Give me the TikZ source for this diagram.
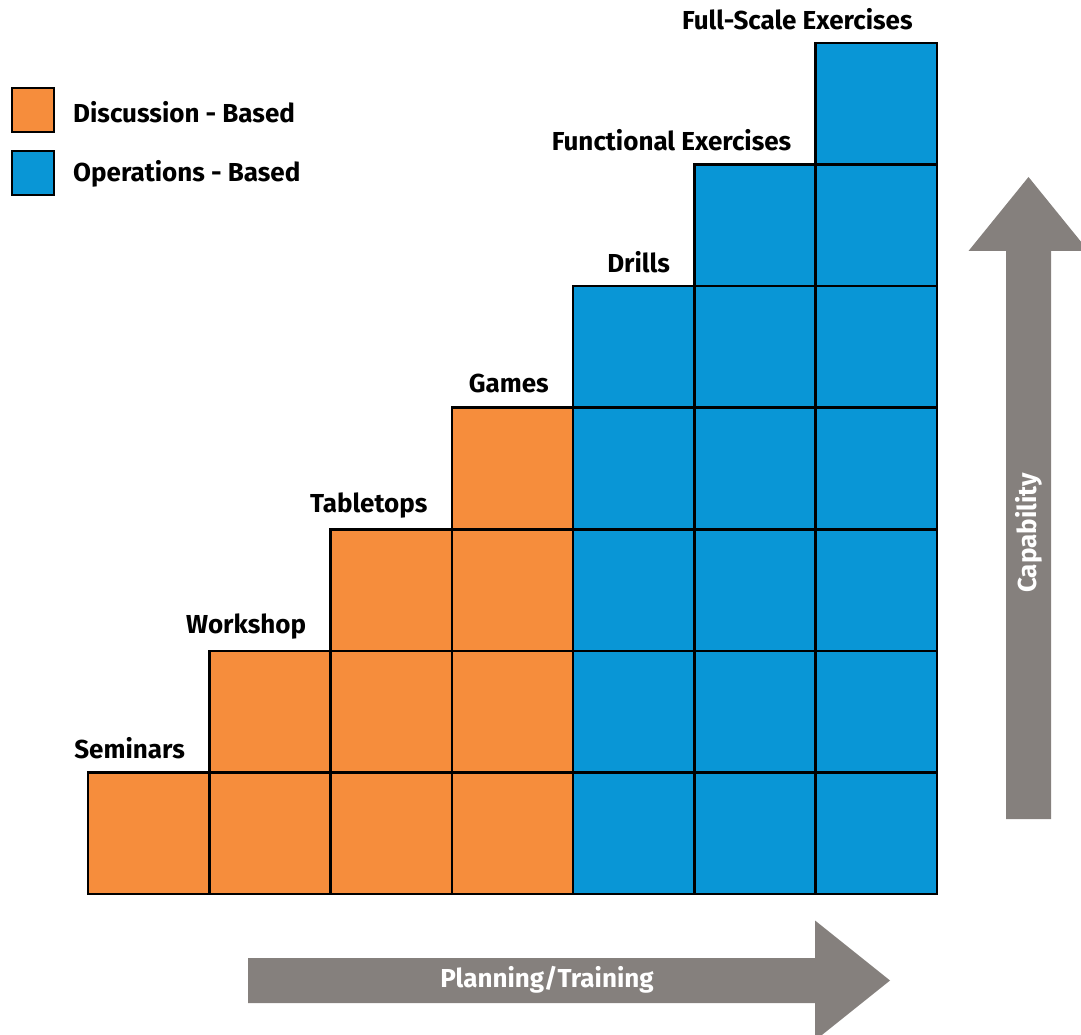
\documentclass[tikz,border=0pt]{standalone}
\usepackage{fontspec}
\setmainfont{Fira Sans}
\usetikzlibrary{positioning}
\usepackage{xcolor}

\definecolor{discorange}{RGB}{246,141,60}
\definecolor{opsblue}{RGB}{9,150,214}
\definecolor{arrowgrey}{RGB}{133,128,125}

\begin{document}
\begin{tikzpicture}[x=1pt,y=1pt,
      cell/.style={draw=black,line width=2.6pt},
      level label/.style={anchor=east,inner sep=0pt,
          font=\bfseries\fontsize{26}{30}\selectfont},
      key box/.style={rectangle,draw=black,line width=2.6pt,
          minimum width=42pt,minimum height=44pt,inner sep=0pt},
      key text/.style={anchor=west,inner sep=0pt,
          font=\bfseries\fontsize{26}{30}\selectfont},
      big arrow/.style={fill=arrowgrey,draw=none},
      arrow text/.style={text=white,inner sep=0pt,
          font=\bfseries\fontsize{26}{30}\selectfont}]

    \useasboundingbox (0,0) rectangle (1081,1034);

    % staircase of cells, one column per exercise type
    \foreach \c/\name/\lab in {0/sem/Seminars,1/work/Workshop,2/table/Tabletops,
        3/games/Games,4/drills/Drills,5/func/Functional Exercises,
        6/full/Full-Scale Exercises}{
      \ifnum\c<4 \def\cellcolor{discorange}\else\def\cellcolor{opsblue}\fi
      \foreach \r in {0,...,\c}
        \draw[cell,fill=\cellcolor] (88+\c*121.29,140+\r*121.57) rectangle ++(121.29,121.57);
      \node[level label] (\name) at (88+\c*121.29+97,140+\c*121.57+121.57+24) {\lab};
    }

    % legend
    \node[key box,fill=discorange] (disc) at (33,924) {};
    \node[key box,fill=opsblue] (ops) at (33,861) {};
    \node[key text] (disctext) at (73,922) {Discussion - Based};
    \node[key text] (opstext) at (73,860) {Operations - Based};

    % axes
    \fill[big arrow] (1006,215) -- (1006,783) -- (968.5,783) -- (1028.5,857)
      -- (1088.5,783) -- (1051,783) -- (1051,215) -- cycle;
    \fill[big arrow] (248,31) -- (815,31) -- (815,-6.5) -- (890,53.5)
      -- (815,113.5) -- (815,76) -- (248,76) -- cycle;
    \node[arrow text,rotate=90] (cap) at (1028.5,501) {Capability};
    \node[arrow text] (plan) at (547,54) {Planning/Training};

\end{tikzpicture}
\end{document}
